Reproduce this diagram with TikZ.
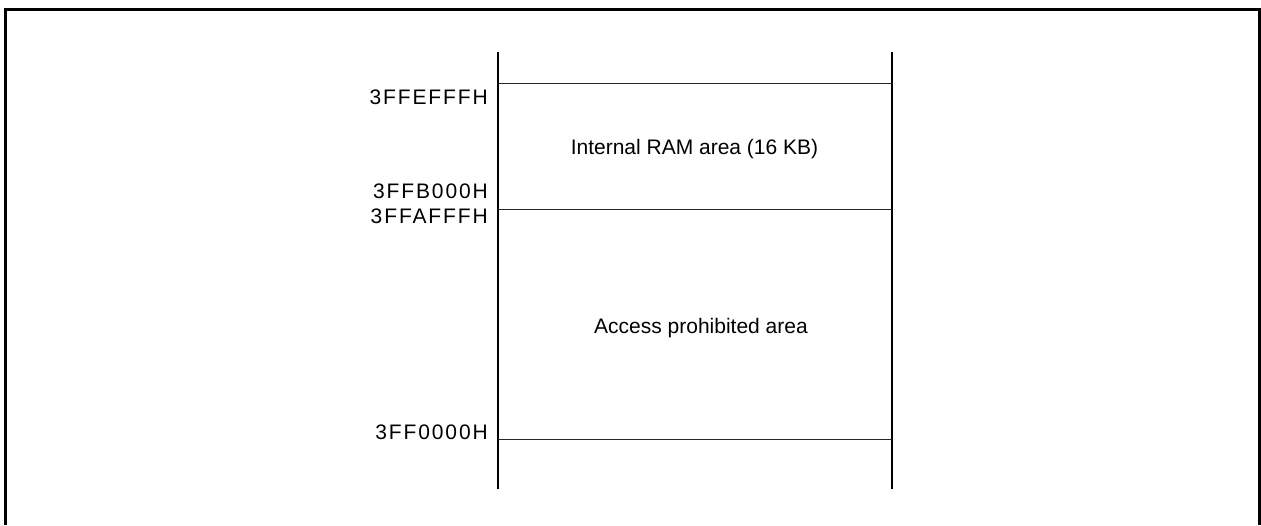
\documentclass[tikz,border=0pt]{standalone}
\usepackage{fontspec}
\setmainfont{Liberation Sans}
\newfontfamily\addrfont[LetterSpace=9]{Liberation Sans}
\tikzset{
  addr/.style={anchor=east, inner sep=0pt, font=\fontsize{21}{24}\addrfont},
  area/.style={anchor=base, inner sep=0pt},
  edgeline/.style={line width=2.5pt},
  border/.style={line width=1pt, black!85}
}
\begin{document}
\begin{tikzpicture}[x=1pt, y=-1pt, font=\fontsize{21}{24}\selectfont]
	\useasboundingbox (0,0) rectangle (1261,525);
	\draw[line width=3pt] (5.5,525) -- (5.5,9.5) -- (1259.5,9.5) -- (1259.5,525);

	% map columns
	\coordinate (lt) at (498,52);
	\coordinate (lb) at (498,489);
	\coordinate (rt) at (892,52);
	\coordinate (rb) at (892,489);
	\coordinate (l1) at (498,83.5);
	\coordinate (r1) at (892,83.5);
	\coordinate (l2) at (498,209);
	\coordinate (r2) at (892,209);
	\coordinate (l3) at (498,439);
	\coordinate (r3) at (892,439);

	\node[addr] (ramtop) at (488,97) {3FFEFFFH};
	\node[addr] (rambot) at (488,191.5) {3FFB000H};
	\node[addr] (protop) at (488,216.5) {3FFAFFFH};
	\node[addr] (probot) at (488,432) {3FF0000H};

	\node[area] (ram) at (694.5,154) {Internal RAM area (16 KB)};
	\node[area] (prohib) at (701,333) {Access prohibited area};

	\path (lt) edge[edgeline] (lb)
	(rt) edge[edgeline] (rb)
	(l1) edge[border] (r1)
	(l2) edge[border] (r2)
	(l3) edge[border] (r3);
\end{tikzpicture}
\end{document}
